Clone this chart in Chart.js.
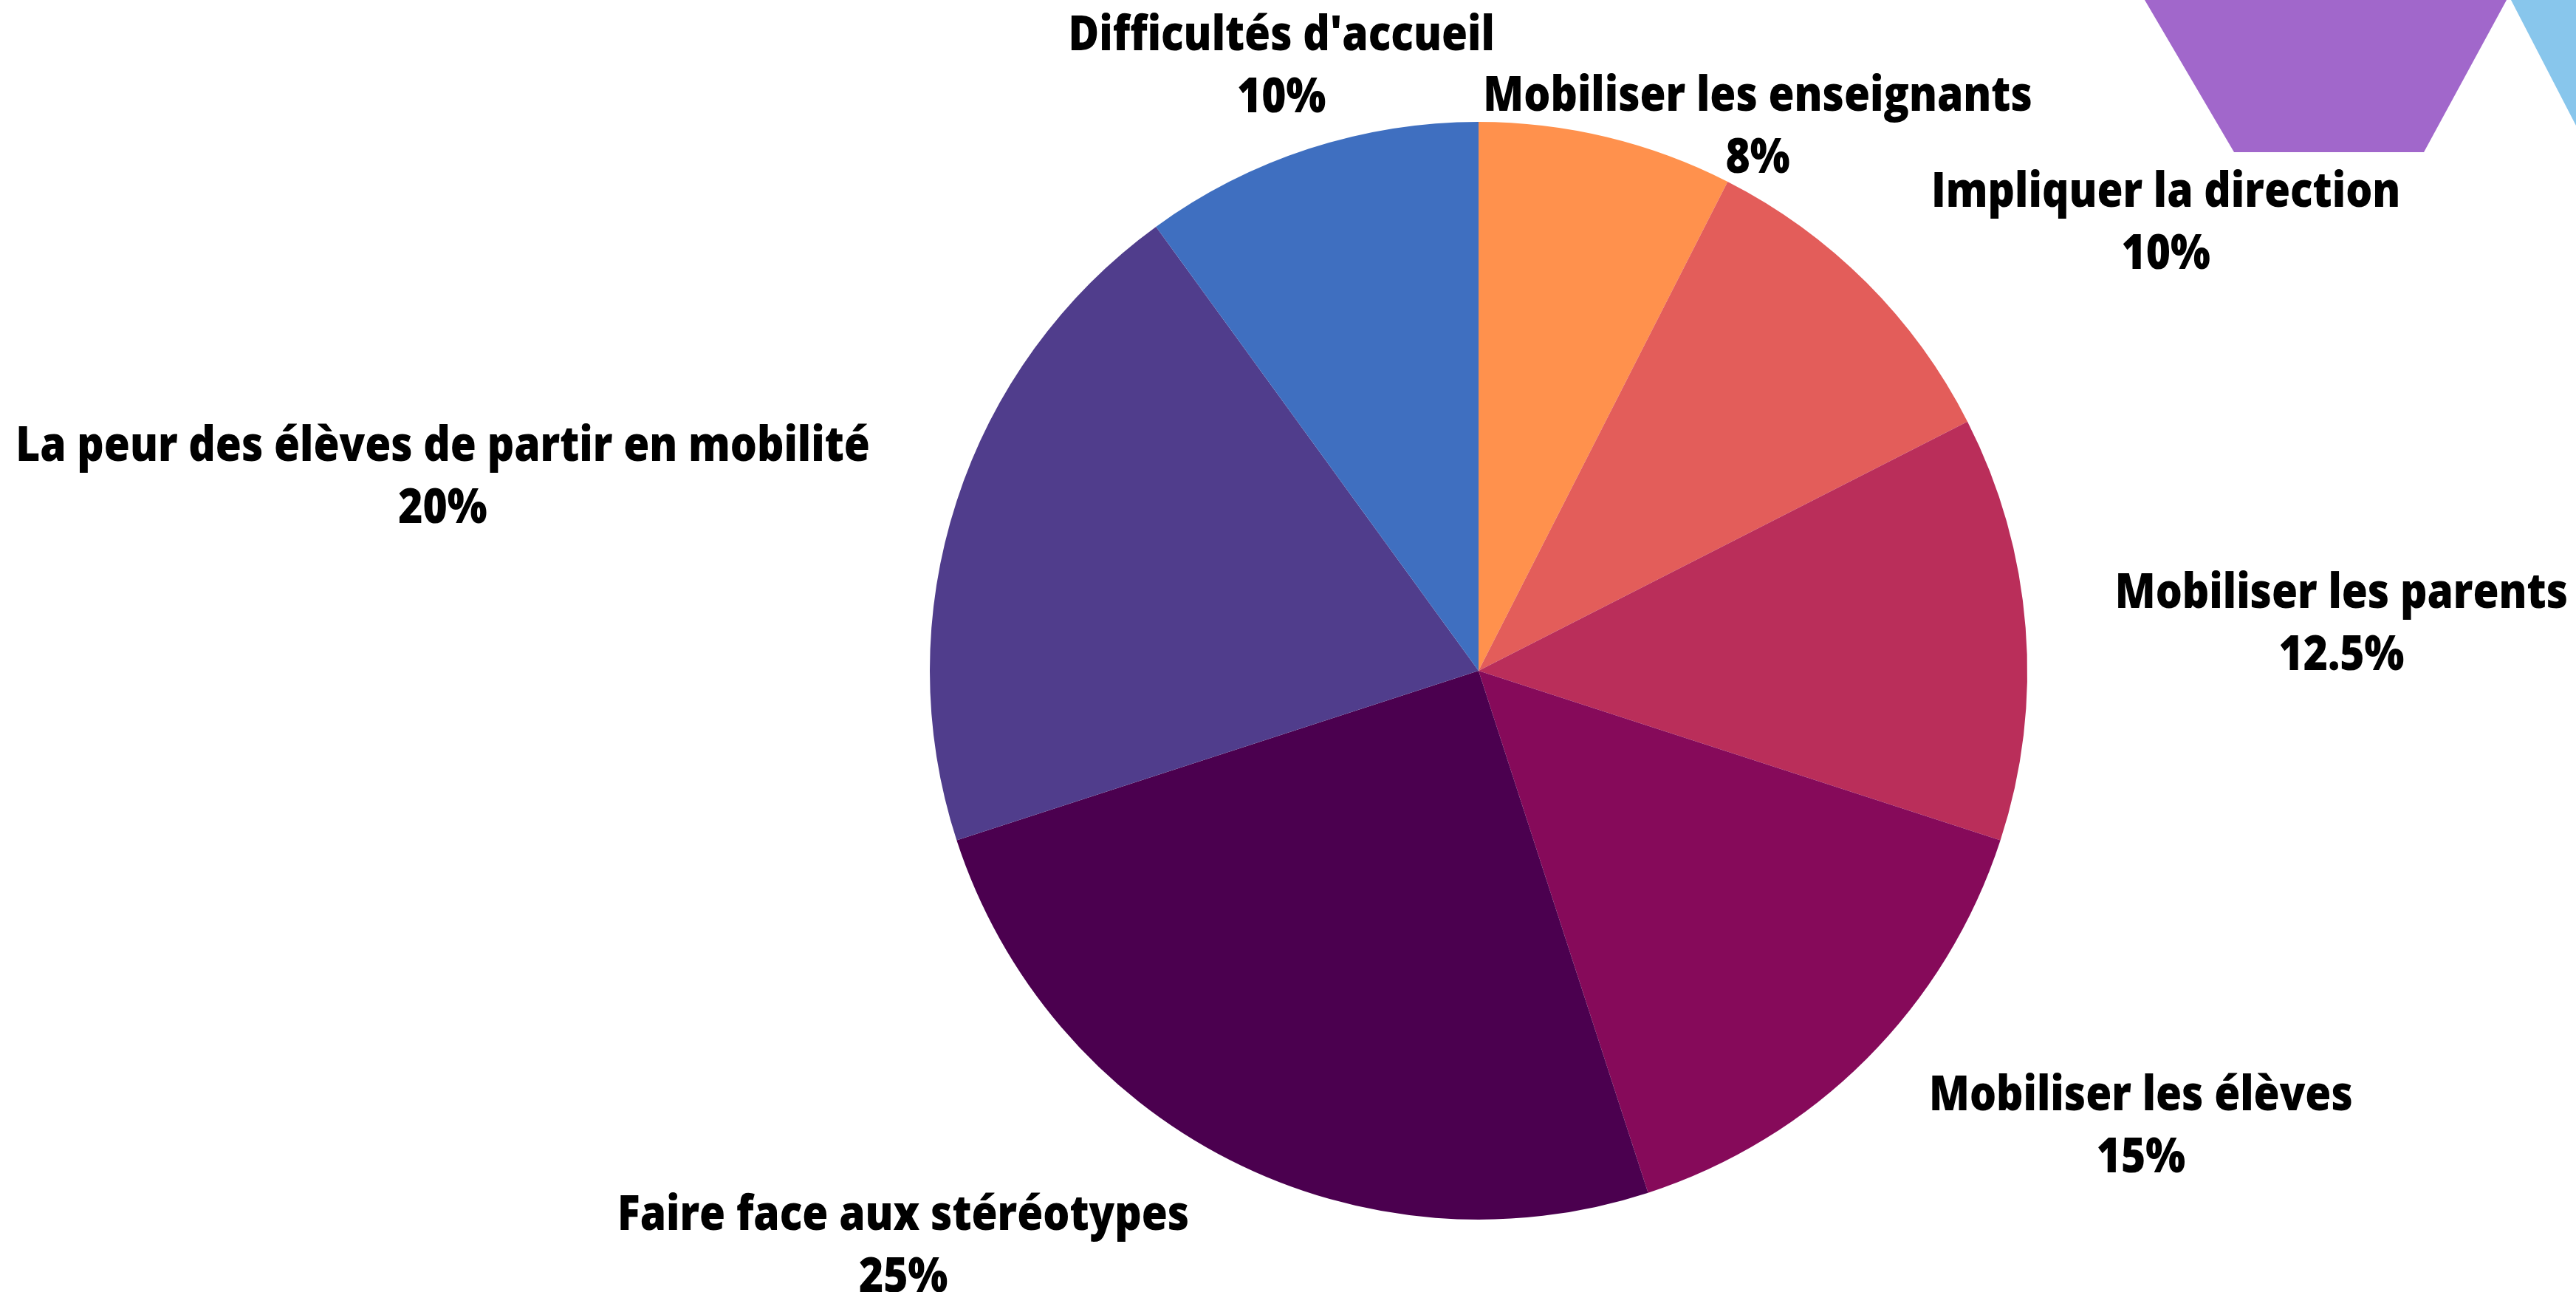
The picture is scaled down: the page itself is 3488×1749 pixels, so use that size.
<!DOCTYPE html>
<html>
<head>
<meta charset="utf-8">
<script src="https://cdn.jsdelivr.net/npm/chart.js@4"></script>
<style>
  html, body { margin: 0; padding: 0; background: #fff; }
  canvas { display: block; }
</style>
</head>
<body>
<canvas id="pie" width="3488" height="1749"></canvas>
<script>
const Chart = globalThis.Chart;

const CATEGORIES = [
  'Mobiliser les enseignants',
  'Impliquer la direction',
  'Mobiliser les parents',
  'Mobiliser les élèves',
  'Faire face aux stéréotypes',
  'La peur des élèves de partir en mobilité',
  "Difficultés d'accueil",
];
const VALUES = [7.5, 10, 12.5, 15, 25, 20, 10];
const VALUE_LABELS = ['8%', '10%', '12.5%', '15%', '25%', '20%', '10%'];

const COLORS = ['#FF914D', '#E35D5A', '#BA2E5A', '#860A5A', '#4B004F', '#503D8C', '#3F6FC0'];

// label centre, polar around the pie: [degrees clockwise from top, distance in radii]
const LABEL_POLAR = [
  [27.1, 1.117], [56.8, 1.497], [86.8, 1.575], [124.4, 1.463],
  [225.1, 1.480], [280.7, 1.921], [342.0, 1.162],
];

const FONT = '800 66px "Open Sans"';
const LINE_GAP = 84;
const H_SCALE = 0.86; // the reference type is narrower than Open Sans

const labelPlugin = {
  id: 'outerLabels',
  afterDatasetsDraw(chart) {
    const { ctx } = chart;
    const arc0 = chart.getDatasetMeta(0).data[0];
    const cx = arc0.x, cy = arc0.y, r = arc0.outerRadius;
    ctx.save();
    ctx.font = FONT;
    ctx.fillStyle = '#000';
    ctx.textAlign = 'center';
    ctx.textBaseline = 'middle';
    CATEGORIES.forEach((name, i) => {
      const [deg, k] = LABEL_POLAR[i];
      const a = deg * Math.PI / 180;
      const x = cx + Math.sin(a) * r * k;
      const y = cy - Math.cos(a) * r * k + 4;
      ctx.save();
      ctx.translate(x, y);
      ctx.scale(H_SCALE, 1);
      ctx.fillText(name, 0, -LINE_GAP / 2);
      ctx.fillText(VALUE_LABELS[i], 0, LINE_GAP / 2);
      ctx.restore();
    });
    ctx.restore();
  },
};

// decorative shapes cut off at the top right corner
const cornerPlugin = {
  id: 'corner',
  beforeDraw(chart) {
    const { ctx } = chart;
    ctx.save();
    ctx.fillStyle = '#A167CB';
    ctx.beginPath();
    ctx.moveTo(2904, 0);
    ctx.lineTo(3394, 0);
    ctx.lineTo(3282, 206);
    ctx.lineTo(3025, 206);
    ctx.closePath();
    ctx.fill();
    ctx.fillStyle = '#88C6EC';
    ctx.beginPath();
    ctx.moveTo(3400, 0);
    ctx.lineTo(3488, 0);
    ctx.lineTo(3488, 170);
    ctx.closePath();
    ctx.fill();
    ctx.restore();
  },
};

new Chart(document.getElementById('pie'), {
  type: 'pie',
  data: {
    labels: CATEGORIES,
    datasets: [{
      data: VALUES,
      backgroundColor: COLORS,
      borderWidth: 0,
    }],
  },
  options: {
    responsive: false,
    animation: false,
    layout: { padding: { left: 1259, right: 743, top: 165, bottom: 98 } },
    plugins: {
      legend: { display: false },
      tooltip: { enabled: false },
    },
  },
  plugins: [cornerPlugin, labelPlugin],
});
</script>
</body>
</html>
